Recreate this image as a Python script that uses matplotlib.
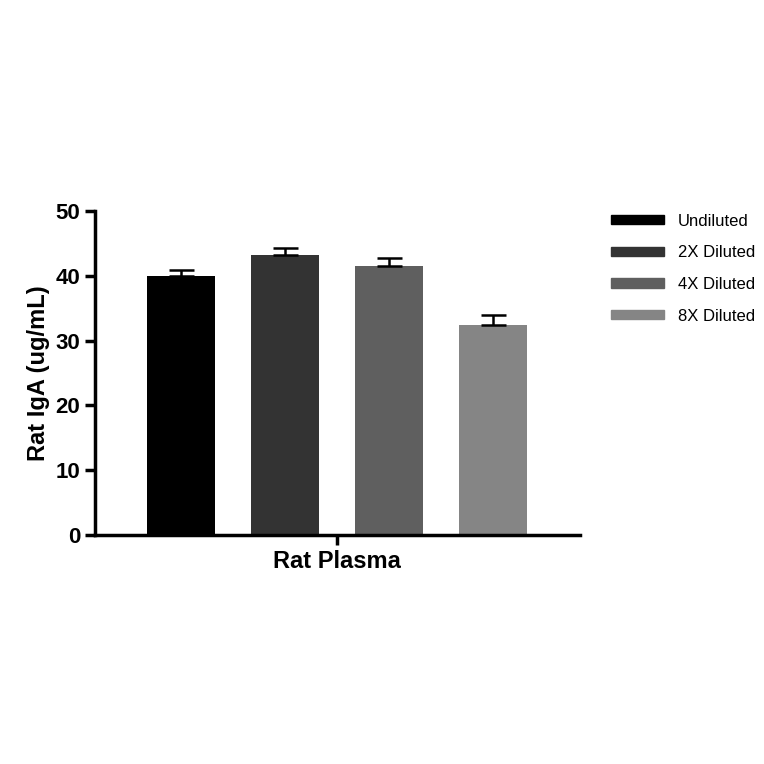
import matplotlib
matplotlib.use("Agg")
import matplotlib.pyplot as plt
from matplotlib.patches import Patch

categories = ["Undiluted", "2X Diluted", "4X Diluted", "8X Diluted"]
values = [40.0, 43.2, 41.5, 32.4]
errors = [0.9, 1.1, 1.2, 1.5]
colors = ["#000000", "#333333", "#5f5f5f", "#858585"]

plt.rcParams['font.family'] = ['Liberation Sans', 'DejaVu Sans']
fig = plt.figure(figsize=(7.64, 7.64), dpi=100)
ax = fig.add_axes([0.124, 0.2997, 0.635, 0.4243])
x = list(range(len(values)))
ax.bar(x, values, width=0.654, color=colors)
ax.errorbar(x, values, yerr=[[0]*4, errors], fmt='none', ecolor='black',
            elinewidth=1.8, capsize=9, capthick=1.8)
ax.set_xlim(-0.827, 3.837)
ax.set_ylim(0, 50)
ax.set_yticks([0, 10, 20, 30, 40, 50])
ax.set_xticks([1.5])
ax.set_xticklabels(["Rat Plasma"], fontsize=17, fontweight='bold')
ax.set_ylabel("Rat IgA (ug/mL)", fontsize=17, fontweight='bold')
for lab in ax.get_yticklabels():
    lab.set_fontsize(16); lab.set_fontweight('bold')
for s in ['top', 'right']:
    ax.spines[s].set_visible(False)
for s in ['left', 'bottom']:
    ax.spines[s].set_linewidth(2.5)
ax.tick_params(width=2.5, length=7)
handles = [Patch(color=c, label=l) for c, l in zip(colors, categories)]
fig.legend(handles=handles, loc='upper left', bbox_to_anchor=(0.78, 0.74),
           frameon=False, fontsize=12, handlelength=3.2, handleheight=0.5,
           labelspacing=1.0)
fig.savefig("out.png", dpi=100)
